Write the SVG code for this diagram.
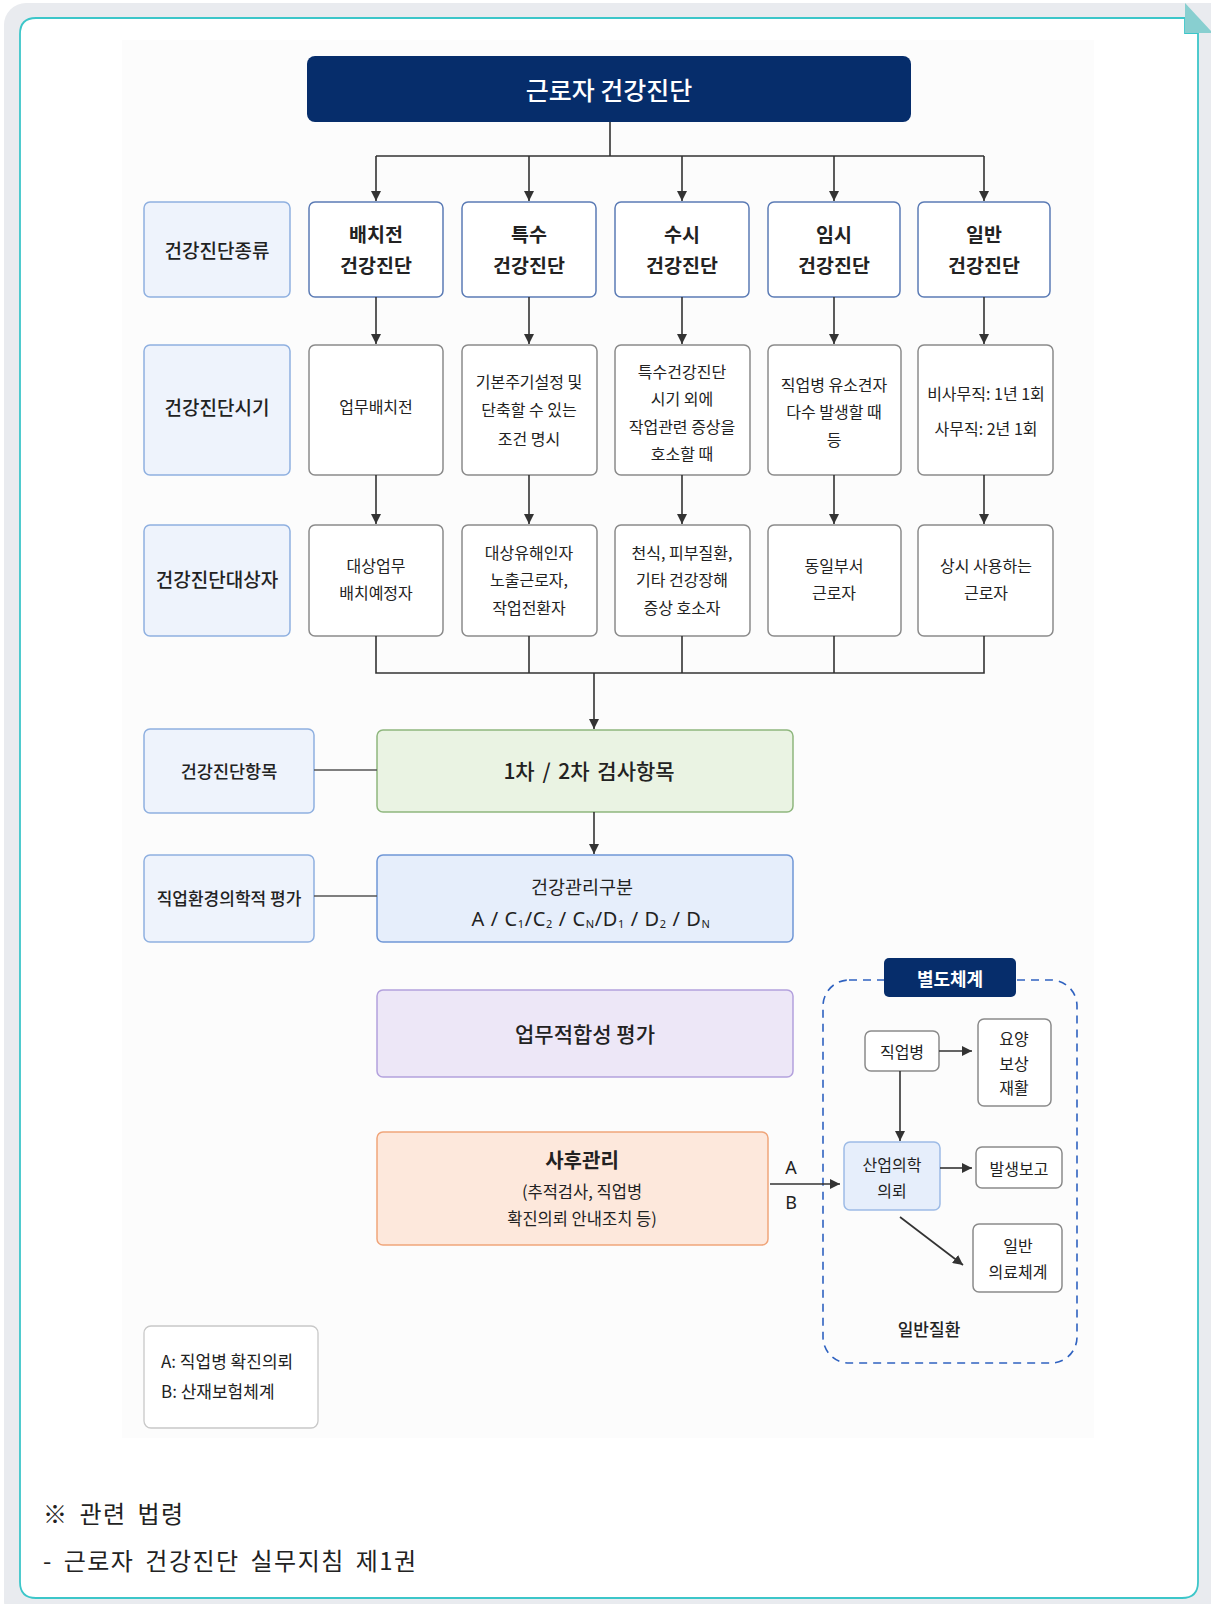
<svg xmlns="http://www.w3.org/2000/svg" width="1211" height="1604" viewBox="0 0 1211 1604">
<defs>
<marker id="arr" viewBox="0 0 10 10" refX="10" refY="5" markerWidth="10" markerHeight="10" markerUnits="userSpaceOnUse" orient="auto">
<path d="M0,0 L10,5 L0,10 z" fill="#333"/>
</marker>
<style>
text{font-family:"Noto Sans CJK KR","Noto Sans",sans-serif;fill:#222;text-anchor:middle;dominant-baseline:central}
.lbl rect{fill:#eef3fc;stroke:#8fb0e0;stroke-width:1.5}
.lbl text{font-size:19px;font-weight:500}
.typ rect{fill:#fff;stroke:#5b7bb5;stroke-width:1.5}
.typ text{font-size:19.5px;font-weight:700}
.cel rect{fill:#fff;stroke:#8a8a8a;stroke-width:1.5}
.cel text{font-size:16px}
.ln{fill:none;stroke:#333;stroke-width:1.6}
.la{fill:none;stroke:#333;stroke-width:1.6;marker-end:url(#arr)}
.sm rect{fill:#fff;stroke:#8a8a8a;stroke-width:1.5}
.sm text{font-size:16px}
.foot{text-anchor:start;font-size:24px;letter-spacing:1.5px;word-spacing:4px}
</style>
</defs>

<!-- frame -->
<rect x="4" y="3" width="1230" height="1620" rx="22" fill="#e9ebef"/>
<path d="M36,18 L1185,18 L1185,33 L1198,33 L1198,1582 Q1198,1598 1182,1598 L36,1598 Q20,1598 20,1582 L20,34 Q20,18 36,18 Z" fill="#fff" stroke="#3cc6c9" stroke-width="1.8"/>
<polygon points="1185,3 1211,31 1211,33 1185,33" fill="#88cfd0"/>
<rect x="122" y="40" width="972" height="1398" fill="#fcfcfc"/>

<!-- title -->
<g id="title">
<rect x="307" y="56" width="604" height="66" rx="8" fill="#062d6b"/>
<text x="609" y="89" style="fill:#fff;font-size:25px;font-weight:500">근로자 건강진단</text>
</g>

<!-- row labels -->
<g id="lbl-type" class="lbl"><rect x="144" y="202" width="146" height="95" rx="6"/><text x="217" y="249">건강진단종류</text></g>
<g id="lbl-time" class="lbl"><rect x="144" y="345" width="146" height="130" rx="6"/><text x="217" y="406">건강진단시기</text></g>
<g id="lbl-target" class="lbl"><rect x="144" y="525" width="146" height="111" rx="6"/><text x="217" y="578">건강진단대상자</text></g>
<g id="lbl-items" class="lbl"><rect x="144" y="729" width="170" height="84" rx="6"/><text x="229" y="770" style="font-size:17.5px">건강진단항목</text></g>
<g id="lbl-eval" class="lbl"><rect x="144" y="855" width="170" height="87" rx="6"/><text x="229" y="897" style="font-size:17px">직업환경의학적 평가</text></g>

<!-- row 1 types -->
<g id="t1" class="typ"><rect x="309" y="202" width="134" height="95" rx="6"/><text x="376" y="233">배치전</text><text x="376" y="264">건강진단</text></g>
<g id="t2" class="typ"><rect x="462" y="202" width="134" height="95" rx="6"/><text x="529" y="233">특수</text><text x="529" y="264">건강진단</text></g>
<g id="t3" class="typ"><rect x="615" y="202" width="134" height="95" rx="6"/><text x="682" y="233">수시</text><text x="682" y="264">건강진단</text></g>
<g id="t4" class="typ"><rect x="768" y="202" width="132" height="95" rx="6"/><text x="834" y="233">임시</text><text x="834" y="264">건강진단</text></g>
<g id="t5" class="typ"><rect x="918" y="202" width="132" height="95" rx="6"/><text x="984" y="233">일반</text><text x="984" y="264">건강진단</text></g>

<!-- row 2 timing -->
<g id="p1" class="cel"><rect x="309" y="345" width="134" height="130" rx="6"/><text x="376" y="406">업무배치전</text></g>
<g id="p2" class="cel"><rect x="462" y="345" width="135" height="130" rx="6"/><text x="529" y="381">기본주기설정 및</text><text x="529" y="409">단축할 수 있는</text><text x="529" y="438">조건 명시</text></g>
<g id="p3" class="cel"><rect x="615" y="345" width="135" height="130" rx="6"/><text x="682" y="371">특수건강진단</text><text x="682" y="398">시기 외에</text><text x="682" y="426">작업관련 증상을</text><text x="682" y="453">호소할 때</text></g>
<g id="p4" class="cel"><rect x="768" y="345" width="133" height="130" rx="6"/><text x="834" y="384">직업병 유소견자</text><text x="834" y="411">다수 발생할 때</text><text x="834" y="439">등</text></g>
<g id="p5" class="cel"><rect x="918" y="345" width="135" height="130" rx="6"/><text x="986" y="393">비사무직: 1년 1회</text><text x="986" y="428">사무직: 2년 1회</text></g>

<!-- row 3 targets -->
<g id="s1" class="cel"><rect x="309" y="525" width="134" height="111" rx="6"/><text x="376" y="565">대상업무</text><text x="376" y="592">배치예정자</text></g>
<g id="s2" class="cel"><rect x="462" y="525" width="135" height="111" rx="6"/><text x="529" y="552">대상유해인자</text><text x="529" y="579">노출근로자,</text><text x="529" y="607">작업전환자</text></g>
<g id="s3" class="cel"><rect x="615" y="525" width="135" height="111" rx="6"/><text x="682" y="552">천식, 피부질환,</text><text x="682" y="579">기타 건강장해</text><text x="682" y="607">증상 호소자</text></g>
<g id="s4" class="cel"><rect x="768" y="525" width="133" height="111" rx="6"/><text x="834" y="565">동일부서</text><text x="834" y="592">근로자</text></g>
<g id="s5" class="cel"><rect x="918" y="525" width="135" height="111" rx="6"/><text x="986" y="565">상시 사용하는</text><text x="986" y="592">근로자</text></g>

<!-- main flow boxes -->
<g id="items"><rect x="377" y="730" width="416" height="82" rx="6" fill="#eaf3e3" stroke="#8fb77e" stroke-width="1.5"/><text x="589" y="770" style="font-size:21px;font-weight:500;word-spacing:3px">1차 / 2차 검사항목</text></g>
<g id="mgmt"><rect x="377" y="855" width="416" height="87" rx="6" fill="#e6eefb" stroke="#6f96d6" stroke-width="1.5"/><text x="582" y="886" style="font-size:18.5px">건강관리구분</text>
<text x="591" y="918" style="font-family:'Noto Sans','DejaVu Sans',sans-serif;font-size:20px;letter-spacing:0.6px">A / C<tspan font-size="11" dy="5">1</tspan><tspan dy="-5">/C</tspan><tspan font-size="11" dy="5">2</tspan><tspan dy="-5"> / C</tspan><tspan font-size="11" dy="5">N</tspan><tspan dy="-5">/D</tspan><tspan font-size="11" dy="5">1</tspan><tspan dy="-5"> / D</tspan><tspan font-size="11" dy="5">2</tspan><tspan dy="-5"> / D</tspan><tspan font-size="11" dy="5">N</tspan></text></g>
<g id="fit"><rect x="377" y="990" width="416" height="87" rx="6" fill="#ede7f7" stroke="#b3a1dd" stroke-width="1.5"/><text x="585" y="1033" style="font-size:21px;font-weight:500">업무적합성 평가</text></g>
<g id="follow"><rect x="377" y="1132" width="391" height="113" rx="6" fill="#fde8dc" stroke="#f0a57a" stroke-width="1.5"/><text x="582" y="1159" style="font-size:20px;font-weight:700">사후관리</text><text x="582" y="1191" style="font-size:16.5px">(추적검사, 직업병</text><text x="582" y="1218" style="font-size:16.5px">확진의뢰 안내조치 등)</text></g>

<!-- separate system -->
<g id="sep">
<rect x="823" y="980" width="254" height="383" rx="26" fill="none" stroke="#2f62c0" stroke-width="1.6" stroke-dasharray="8 6"/>
<rect x="884" y="958" width="132" height="39" rx="5" fill="#062d6b"/>
<text x="950" y="978" style="fill:#fff;font-size:18px;font-weight:700">별도체계</text>
<text x="929" y="1328" style="font-size:17px;font-weight:500">일반질환</text>
</g>
<g id="occ" class="sm"><rect x="865" y="1031" width="74" height="40" rx="6"/><text x="902" y="1051">직업병</text></g>
<g id="care" class="sm"><rect x="978" y="1019" width="73" height="87" rx="6"/><text x="1014" y="1038">요양</text><text x="1014" y="1063">보상</text><text x="1014" y="1087">재활</text></g>
<g id="refer"><rect x="844" y="1142" width="96" height="68" rx="6" fill="#e6eefb" stroke="#9dbbe6" stroke-width="1.5"/><text x="892" y="1164" style="font-size:16px">산업의학</text><text x="892" y="1190" style="font-size:16px">의뢰</text></g>
<g id="report" class="sm"><rect x="976" y="1147" width="86" height="41" rx="6"/><text x="1019" y="1168">발생보고</text></g>
<g id="general" class="sm"><rect x="973" y="1224" width="89" height="68" rx="6"/><text x="1018" y="1245">일반</text><text x="1018" y="1271">의료체계</text></g>

<!-- legend -->
<g id="legend">
<rect x="144" y="1326" width="174" height="102" rx="7" fill="#fff" stroke="#c8c8c8" stroke-width="1.3"/>
<text x="161" y="1360" style="text-anchor:start;font-size:17px">A: 직업병 확진의뢰</text>
<text x="161" y="1390" style="text-anchor:start;font-size:17px">B: 산재보험체계</text>
</g>

<!-- connectors -->
<g id="connectors">
<path class="ln" d="M610,122 V156 M376,156 H984"/>
<path class="la" d="M376,156 V201"/>
<path class="la" d="M529,156 V201"/>
<path class="la" d="M682,156 V201"/>
<path class="la" d="M834,156 V201"/>
<path class="la" d="M984,156 V201"/>
<path class="la" d="M376,297 V344"/>
<path class="la" d="M529,297 V344"/>
<path class="la" d="M682,297 V344"/>
<path class="la" d="M834,297 V344"/>
<path class="la" d="M984,297 V344"/>
<path class="la" d="M376,475 V524"/>
<path class="la" d="M529,475 V524"/>
<path class="la" d="M682,475 V524"/>
<path class="la" d="M834,475 V524"/>
<path class="la" d="M984,475 V524"/>
<path class="ln" d="M376,636 V673 H984 V636 M529,636 V673 M682,636 V673 M834,636 V673"/>
<path class="la" d="M594,673 V729"/>
<path class="la" d="M594,812 V854"/>
<path class="ln" d="M314,770 H377 M314,896 H377" style="stroke:#555"/>
<path class="la" d="M770,1184 H840"/>
<text x="791" y="1167" style="font-family:'Noto Sans',sans-serif;font-size:18px">A</text>
<text x="791" y="1202" style="font-family:'Noto Sans',sans-serif;font-size:18px">B</text>
<path class="la" d="M939,1051 H972"/>
<path class="la" d="M900,1071 V1141"/>
<path class="la" d="M940,1168 H972"/>
<path class="la" d="M900,1217 L963,1265"/>
</g>

<!-- footer -->
<text x="43" y="1512" class="foot">※ 관련 법령</text>
<text x="43" y="1559" class="foot">- 근로자 건강진단 실무지침 제1권</text>
</svg>
